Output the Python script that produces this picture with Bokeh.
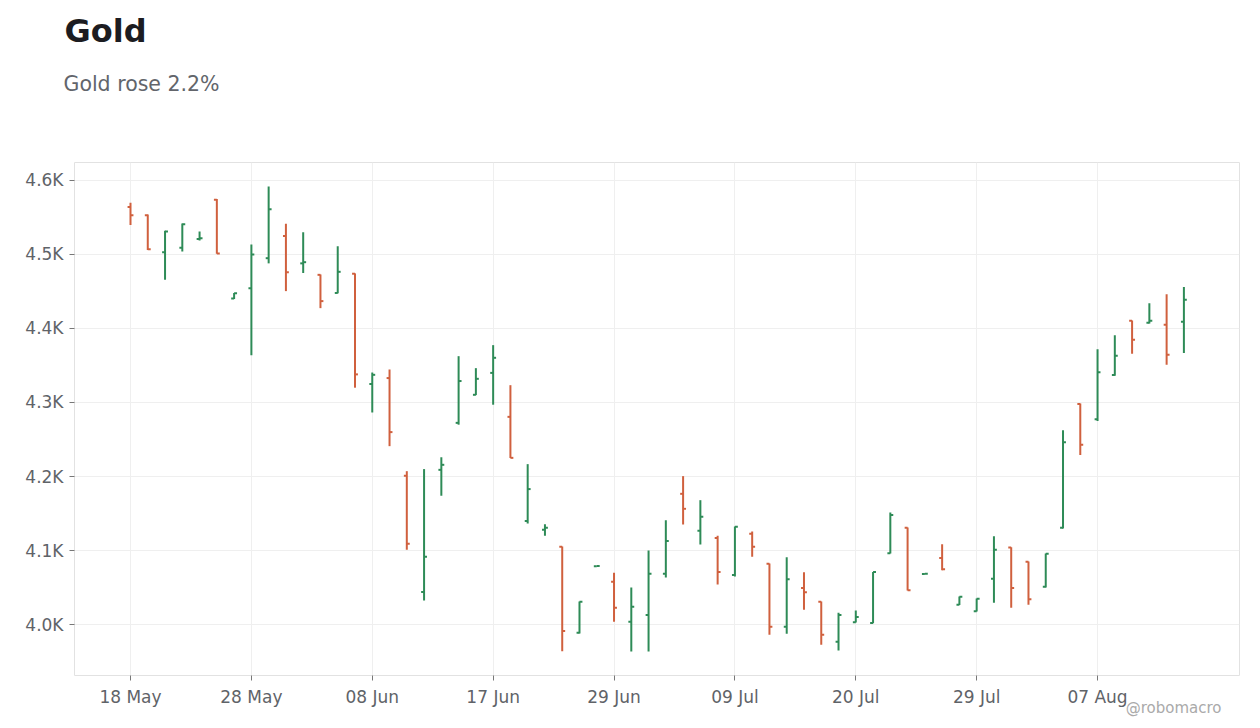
from bokeh.plotting import figure
from bokeh.models import FixedTicker, Title, Range1d, ColumnDataSource
from bokeh.embed import file_html
from bokeh.resources import INLINE

# daily gold bars
opens = [4564, 4553, 4503, 4509, 4521, 4574, 4440.5, 4454.5, 4495, 4525,
         4488, 4472.5, 4448, 4474, 4325, 4333, 4201, 4044, 4209, 4272.5,
         4310.4, 4340, 4280.6, 4140, 4128, 4105, 3988.7, 4078.8, 4057.7, 4003.6,
         4013, 4068.5, 4176.6, 4126.6, 4117, 4067, 4122.5, 4082, 3997, 4049.5,
         4030.6, 3976.6, 4003, 4002, 4096.4, 4130.6, 4068.3, 4090, 4026.6, 4018,
         4061.7, 4104, 4084.7, 4051, 4130.6, 4298, 4277.5, 4337, 4410.4, 4407.7,
         4405, 4409]
highs = [4570, 4554, 4532, 4542, 4531, 4575, 4448, 4513.5, 4592, 4541.5,
         4530, 4473, 4511, 4474.5, 4340.5, 4344.6, 4207.2, 4210, 4226, 4362.6,
         4346.4, 4377.5, 4323.4, 4216.7, 4135.6, 4105.5, 4031, 4079.2, 4070, 4050,
         4100, 4141, 4200.5, 4168, 4120, 4132.3, 4125.7, 4082.3, 4091, 4070.7,
         4031, 4016, 4019, 4071, 4151.4, 4131, 4068.7, 4108.6, 4037.8, 4035,
         4119.4, 4104.3, 4085, 4095.8, 4262.6, 4298.6, 4372, 4391, 4410.8, 4434,
         4446.4, 4456]
lows = [4540, 4506, 4466, 4504, 4519, 4501, 4440, 4364, 4488, 4450.5,
        4475, 4427.5, 4447.5, 4320, 4286.5, 4241, 4101, 4032.4, 4174, 4270,
        4310, 4297, 4225, 4136.5, 4120, 3964, 3988, 4078.6, 4003.6, 3963.5,
        3963.5, 4063.5, 4135, 4108, 4054, 4065, 4091.5, 3986, 3987.4, 4020,
        3972.5, 3965, 4002.8, 4001.8, 4096, 4046, 4068.2, 4073.4, 4026.4, 4017.6,
        4029.3, 4022.5, 4026.6, 4050, 4129.7, 4229, 4275, 4336, 4365.8, 4406.8,
        4351, 4367]
closes = [4553, 4507, 4531, 4541, 4522, 4501.5, 4447.7, 4500, 4561, 4476,
          4489.6, 4437, 4476.6, 4338, 4337.4, 4260, 4109, 4091.4, 4215.8, 4329,
          4332, 4360.4, 4225.2, 4183, 4130.6, 3991.4, 4030.6, 4079, 4022.5, 4024,
          4068.5, 4113, 4156.3, 4145.5, 4071, 4132, 4105, 3997, 4061, 4043.7,
          3986, 4013, 4010, 4071, 4148, 4046.4, 4068.5, 4074.8, 4037.4, 4034.7,
          4101, 4049.5, 4034.2, 4095.5, 4246.4, 4242.8, 4341, 4363, 4384.7, 4410.4,
          4364.4, 4438.7]

tick_labels = ["18 May", "28 May", "08 Jun", "17 Jun", "29 Jun",
               "09 Jul", "20 Jul", "29 Jul", "07 Aug"]
tick_bars = [0, 7, 14, 21, 28, 35, 42, 49, 56]
y_ticks = [4000, 4100, 4200, 4300, 4400, 4500, 4600]

UP = "#2e8b57"
DOWN = "#d0603e"
FONT = "DejaVu Sans"

idx = list(range(len(opens)))
colors = [UP if c >= o else DOWN for o, c in zip(opens, closes)]
tw = 0.17
src = ColumnDataSource(dict(
    x=idx, xl=[i - tw for i in idx], xr=[i + tw for i in idx],
    o=opens, h=highs, l=lows, c=closes, color=colors))

p = figure(width=1252, height=720, output_backend="svg", toolbar_location=None,
           x_range=Range1d(-3.243, 64.22), y_range=Range1d(3931.1, 4624.3),
           min_border_left=74, min_border_right=13, min_border_top=162,
           min_border_bottom=45, title=None)

p.segment("x", "l", "x", "h", source=src, color="color", line_width=2)
p.segment("xl", "o", "x", "o", source=src, color="color", line_width=2)
p.segment("x", "c", "xr", "c", source=src, color="color", line_width=2)

p.outline_line_color = "#e2e2e2"
p.outline_line_width = 1
p.background_fill_color = "white"
p.border_fill_color = "white"

for ax in (p.xaxis, p.yaxis):
    ax.axis_line_color = None
    ax.major_tick_line_color = "#777777"
    ax.major_tick_in = 0
    ax.major_tick_out = 5
    ax.minor_tick_line_color = None
    ax.major_label_text_font = FONT
    ax.major_label_text_font_size = "17px"
    ax.major_label_text_color = "#5f6368"
    ax.major_label_standoff = 6

p.xaxis.ticker = FixedTicker(ticks=tick_bars)
p.xaxis.major_label_overrides = {t: lab for t, lab in zip(tick_bars, tick_labels)}
p.yaxis.ticker = FixedTicker(ticks=y_ticks)
p.yaxis.major_label_overrides = {t: "%.1fK" % (t / 1000) for t in y_ticks}

p.xgrid.grid_line_color = "#efefef"
p.ygrid.grid_line_color = "#efefef"

# titles stack upward from the frame: spacer, subtitle, main title
p.add_layout(Title(text=" ", text_font=FONT, text_font_size="20px",
                   standoff=21), "above")
p.add_layout(Title(text="Gold rose 2.2%", text_font=FONT, text_font_size="20.5px",
                   text_font_style="normal", text_color="#62656b",
                   align="left", offset=-11, standoff=40), "above")
p.add_layout(Title(text="Gold", text_font=FONT, text_font_size="32px",
                   text_font_style="bold", text_color="#1c1c21",
                   align="left", offset=-10, standoff=0), "above")
p.add_layout(Title(text="@robomacro", text_font=FONT, text_font_size="15px",
                   text_font_style="normal", text_color="#aaaaaa",
                   align="right", vertical_align="top", offset=18,
                   standoff=-22), "below")

open("out.html", "w").write(file_html(p, INLINE))
